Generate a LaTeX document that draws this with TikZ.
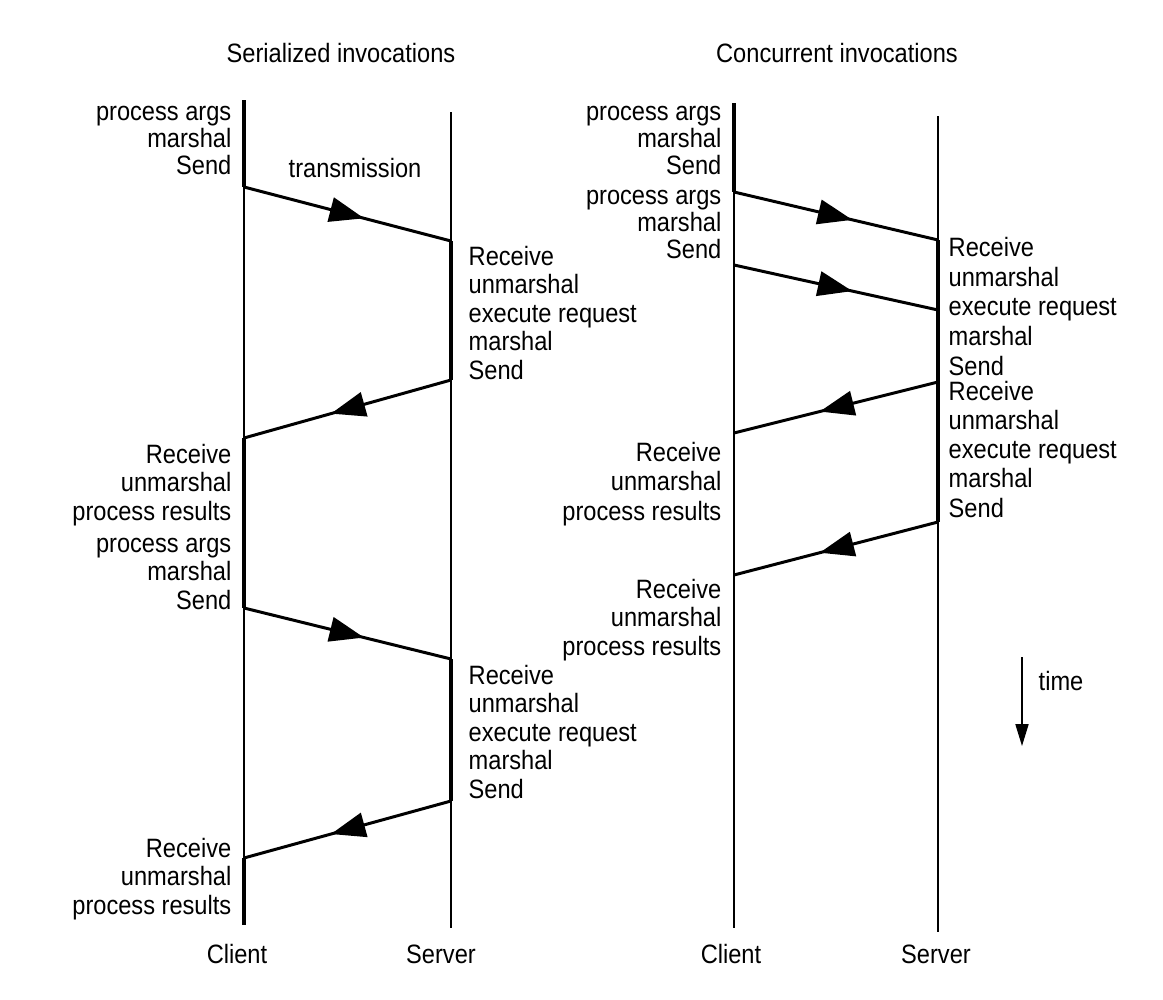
\documentclass[tikz,border=0pt]{standalone}
\usepackage{fontspec}
\setmainfont[FakeStretch=0.89]{Liberation Sans}
\usepackage{tikz}
\usetikzlibrary{arrows.meta,decorations.markings,positioning}

\tikzset{
    lifeline/.style={line width=0.45pt},
    busy/.style={line width=1.1pt},
    msg/.style={line width=0.85pt, postaction={decorate},
        decoration={markings, mark=at position 0.58 with {\arrow{Triangle[length=9.8pt,width=7pt]}}}},
    lbl/.style={font=\fontsize{7.55}{8.1}\selectfont, inner sep=0pt},
    tight/.style={font=\fontsize{7.55}{7.55}\selectfont},
    lblL/.style={lbl, align=right, anchor=base east},
    lblR/.style={lbl, align=left, anchor=base west}
}

\begin{document}
\begin{tikzpicture}[x=0.01cm,y=-0.01cm]
    \useasboundingbox (0,0) rectangle (1163,1000);

    % Titles
    \node[lbl, anchor=base] (tser) at (341,63) {Serialized invocations};
    \node[lbl, anchor=base] (tcon) at (837,63) {Concurrent invocations};

    % Serialized: event points
    \coordinate (lcTop) at (244,100);
    \coordinate (lcBot) at (244,925);
    \coordinate (lsTop) at (451,112);
    \coordinate (lsBot) at (451,928);
    \coordinate (lc1) at (244,187);
    \coordinate (ls1) at (451,241);
    \coordinate (ls2) at (451,380);
    \coordinate (lc2) at (244,438);
    \coordinate (lc3) at (244,608);
    \coordinate (ls3) at (451,659);
    \coordinate (ls4) at (451,801);
    \coordinate (lc4) at (244,858);

    % Serialized: lifelines
    \draw[lifeline] (lcTop) -- (lcBot);
    \draw[lifeline] (lsTop) -- (lsBot);
    \draw[busy] (lcTop) -- (lc1);
    \draw[busy] (lc2) -- (lc3);
    \draw[busy] (lc4) -- (lcBot);
    \draw[busy] (ls1) -- (ls2);
    \draw[busy] (ls3) -- (ls4);

    % Serialized: messages
    \draw[msg] (lc1) -- (ls1);
    \draw[msg] (ls2) -- (lc2);
    \draw[msg] (lc3) -- (ls3);
    \draw[msg] (ls4) -- (lc4);

    % Serialized: labels (anchored at last line)
    \node[lblL, tight] (la1) at (232,174) {process args\\marshal\\Send};
    \node[lbl, anchor=base] (trans) at (355,177) {transmission};
    \node[lblR] (lb1) at (468,379) {Receive\\unmarshal\\execute request\\marshal\\Send};
    \node[lblL] (la2) at (232,520) {Receive\\unmarshal\\process results};
    \node[lblL] (la3) at (232,609) {process args\\marshal\\Send};
    \node[lblR] (lb2) at (468,798) {Receive\\unmarshal\\execute request\\marshal\\Send};
    \node[lblL] (la4) at (232,914) {Receive\\unmarshal\\process results};
    \node[lbl, anchor=base] (lcli) at (237,963) {Client};
    \node[lbl, anchor=base] (lser) at (441,963) {Server};

    % Concurrent: event points
    \coordinate (rcTop) at (734,103);
    \coordinate (rcBot) at (734,928);
    \coordinate (rsTop) at (938,116);
    \coordinate (rsBot) at (938,932);
    \coordinate (rc1) at (734,192);
    \coordinate (rs1) at (938,240);
    \coordinate (rc2) at (734,265);
    \coordinate (rs2) at (938,310);
    \coordinate (rs3) at (938,382);
    \coordinate (rc3) at (734,433);
    \coordinate (rs4) at (938,522);
    \coordinate (rc4) at (734,575);

    % Concurrent: lifelines
    \draw[lifeline] (rcTop) -- (rcBot);
    \draw[lifeline] (rsTop) -- (rsBot);
    \draw[busy] (rcTop) -- (rc1);
    \draw[busy] (rs1) -- (rs4);

    % Concurrent: messages
    \draw[msg] (rc1) -- (rs1);
    \draw[msg] (rc2) -- (rs2);
    \draw[msg] (rs3) -- (rc3);
    \draw[msg] (rs4) -- (rc4);

    % Concurrent: labels (anchored at last line)
    \node[lblL, tight] (ra1) at (722,174) {process args\\marshal\\Send};
    \node[lblL, tight] (ra2) at (722,258) {process args\\marshal\\Send};
    \node[lblR, font=\fontsize{7.55}{8.4}\selectfont] (rb1) at (948,375) {Receive\\unmarshal\\execute request\\marshal\\Send};
    \node[lblR, font=\fontsize{7.55}{8.25}\selectfont] (rb2) at (948,517) {Receive\\unmarshal\\execute request\\marshal\\Send};
    \node[lblL, font=\fontsize{7.55}{8.25}\selectfont] (ra3) at (722,520) {Receive\\unmarshal\\process results};
    \node[lblL] (ra4) at (722,655) {Receive\\unmarshal\\process results};
    \node[lbl, anchor=base] (rcli) at (731,963) {Client};
    \node[lbl, anchor=base] (rser) at (936,963) {Server};

    % Time axis
    \coordinate (tTop) at (1022,657);
    \coordinate (tBot) at (1022,746);
    \draw[lifeline, -{Triangle[length=6.2pt,width=3.7pt]}] (tTop) -- (tBot);
    \node[lbl, anchor=base west] (time) at (1038,690) {time};

\end{tikzpicture}
\end{document}
